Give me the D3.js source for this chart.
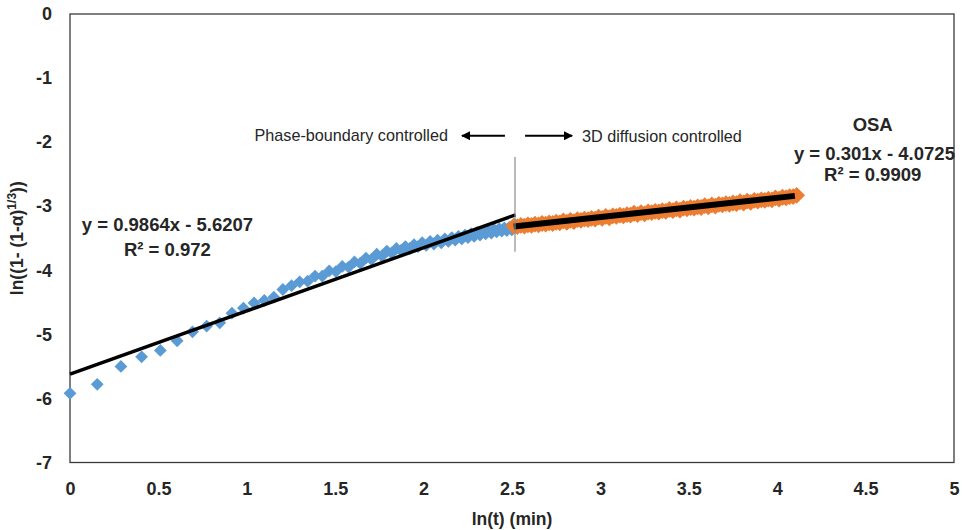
<!DOCTYPE html>
<html>
<head>
<meta charset="utf-8">
<script src="https://cdn.jsdelivr.net/npm/d3@7"></script>
<style>
  html, body { margin: 0; padding: 0; background: #fff; }
  svg { display: block; font-family: "Liberation Sans", Arial, sans-serif; }
</style>
</head>
<body>
<svg id="chart" width="962" height="530"></svg>
<script>
// ---- data ----
const xTicks = [0, 0.5, 1, 1.5, 2, 2.5, 3, 3.5, 4, 4.5, 5];
const yTicks = [0, -1, -2, -3, -4, -5, -6, -7];

// Phase-boundary controlled region (blue)
const blueX = [0, 0.154, 0.288, 0.405, 0.511, 0.606, 0.693, 0.773, 0.847, 0.916,
  0.981, 1.041, 1.099, 1.153, 1.204, 1.253, 1.299, 1.344, 1.386, 1.427,
  1.466, 1.504, 1.540, 1.576, 1.609, 1.642, 1.674, 1.705, 1.735, 1.764,
  1.792, 1.819, 1.846, 1.872, 1.897, 1.922, 1.946, 1.969, 1.992, 2.015,
  2.037, 2.058, 2.079, 2.100, 2.120, 2.140, 2.160, 2.179, 2.197, 2.216,
  2.234, 2.251, 2.269, 2.286, 2.303, 2.319, 2.335, 2.351, 2.367, 2.383,
  2.398, 2.413, 2.428, 2.442, 2.457, 2.471, 2.485, 2.499];
const blueY = [-5.92, -5.78, -5.50, -5.35, -5.25, -5.10, -4.96, -4.87, -4.82, -4.67,
  -4.59, -4.51, -4.47, -4.42, -4.30, -4.24, -4.18, -4.17, -4.09, -4.09,
  -4.01, -4.02, -3.94, -3.95, -3.87, -3.89, -3.81, -3.83, -3.75, -3.78,
  -3.70, -3.73, -3.66, -3.69, -3.63, -3.66, -3.60, -3.63, -3.57, -3.61,
  -3.55, -3.59, -3.53, -3.57, -3.51, -3.55, -3.49, -3.53, -3.47, -3.51,
  -3.45, -3.49, -3.43, -3.47, -3.41, -3.45, -3.39, -3.43, -3.38, -3.42,
  -3.36, -3.40, -3.35, -3.39, -3.34, -3.38, -3.33, -3.37];

// 3D diffusion controlled region (orange)
const orangeX = [2.51, 2.53, 2.55, 2.57, 2.59, 2.61, 2.63, 2.65, 2.67, 2.69,
  2.71, 2.73, 2.75, 2.77, 2.79, 2.81, 2.83, 2.85, 2.87, 2.89,
  2.91, 2.93, 2.95, 2.97, 2.99, 3.01, 3.03, 3.05, 3.07, 3.09,
  3.11, 3.13, 3.15, 3.17, 3.19, 3.21, 3.23, 3.25, 3.27, 3.29,
  3.31, 3.33, 3.35, 3.37, 3.39, 3.41, 3.43, 3.45, 3.47, 3.49,
  3.51, 3.53, 3.55, 3.57, 3.59, 3.61, 3.63, 3.65, 3.67, 3.69,
  3.71, 3.73, 3.75, 3.77, 3.79, 3.81, 3.83, 3.85, 3.87, 3.89,
  3.91, 3.93, 3.95, 3.97, 3.99, 4.01, 4.03, 4.05, 4.07, 4.09, 4.11];
const orangeY = [-3.31, -3.32, -3.30, -3.31, -3.29, -3.30, -3.28, -3.29, -3.27, -3.28,
  -3.26, -3.27, -3.25, -3.26, -3.23, -3.25, -3.22, -3.24, -3.21, -3.22,
  -3.20, -3.21, -3.19, -3.20, -3.17, -3.19, -3.16, -3.18, -3.15, -3.16,
  -3.14, -3.15, -3.13, -3.14, -3.11, -3.13, -3.10, -3.12, -3.09, -3.10,
  -3.08, -3.09, -3.07, -3.08, -3.05, -3.07, -3.04, -3.06, -3.03, -3.04,
  -3.02, -3.03, -3.01, -3.02, -2.99, -3.01, -2.98, -3.00, -2.97, -2.98,
  -2.96, -2.97, -2.95, -2.96, -2.93, -2.95, -2.92, -2.94, -2.91, -2.92,
  -2.90, -2.91, -2.89, -2.90, -2.87, -2.89, -2.86, -2.87, -2.85, -2.85, -2.83];

// trendlines: [slope, intercept, xStart, xEnd]
const blueTrend = [0.9864, -5.6207, 0, 2.52];
const orangeTrend = [0.301, -4.0725, 2.51, 4.10];

const blueLabels = ["y = 0.9864x - 5.6207", "R² = 0.972"];
const orangeLabels = ["OSA", "y = 0.301x - 4.0725", "R² = 0.9909"];
const regionLabels = ["Phase-boundary controlled", "3D diffusion controlled"];
const xTitle = "ln(t) (min)";

// ---- layout ----
const svg = d3.select("#chart");
const m = {left: 70, right: 8, top: 14, bottom: 67.5};
const W = 962, H = 530;
const x = d3.scaleLinear().domain([0, 5]).range([m.left, W - m.right]);
const y = d3.scaleLinear().domain([-7, 0]).range([H - m.bottom, m.top]);

const blue = "#5B9BD5", orange = "#ED7D31";
const txt = "#262626";

// plot box
svg.append("rect")
  .attr("x", x(0)).attr("y", y(0))
  .attr("width", x(5) - x(0)).attr("height", y(-7) - y(0))
  .attr("fill", "none").attr("stroke", "#3a3a3a").attr("stroke-width", 1.3);

// axes (labels only)
const xAxis = svg.append("g").attr("transform", `translate(0,${y(-7)})`)
  .call(d3.axisBottom(x).tickValues(xTicks).tickSize(0).tickPadding(20).tickFormat(d => String(d)));
xAxis.select(".domain").remove();
xAxis.selectAll("text").attr("font-size", 18).attr("font-weight", "bold")
  .attr("fill", txt).attr("font-family", "Liberation Sans, Arial, sans-serif");

const yAxis = svg.append("g").attr("transform", `translate(${x(0)},0)`)
  .call(d3.axisLeft(y).tickValues(yTicks).tickSize(0).tickPadding(18).tickFormat(d => String(d)));
yAxis.select(".domain").remove();
yAxis.selectAll("text").attr("font-size", 18).attr("font-weight", "bold")
  .attr("fill", txt).attr("font-family", "Liberation Sans, Arial, sans-serif");

// diamond symbol (square rotated 45deg)
const diamond = {
  draw(ctx, size) {
    const r = Math.sqrt(size / 2);
    ctx.moveTo(0, -r); ctx.lineTo(r, 0); ctx.lineTo(0, r); ctx.lineTo(-r, 0); ctx.closePath();
  }
};

function drawSeries(xs, ys, color, r) {
  const sym = d3.symbol().type(diamond).size(2 * r * r);
  svg.append("g").selectAll("path")
    .data(xs.map((v, i) => [v, ys[i]]))
    .join("path")
    .attr("transform", d => `translate(${x(d[0])},${y(d[1])})`)
    .attr("d", sym)
    .attr("fill", color);
}
drawSeries(blueX, blueY, blue, 6.4);
drawSeries(orangeX, orangeY, orange, 8.4);

// trendlines
function drawTrend(t, width) {
  const [a, b, x0, x1] = t;
  svg.append("line")
    .attr("x1", x(x0)).attr("y1", y(a * x0 + b))
    .attr("x2", x(x1)).attr("y2", y(a * x1 + b))
    .attr("stroke", "#000").attr("stroke-width", width);
}
drawTrend(blueTrend, 3.4);
drawTrend(orangeTrend, 6);

// vertical divider
svg.append("line")
  .attr("x1", x(2.517)).attr("x2", x(2.517))
  .attr("y1", y(-2.23)).attr("y2", y(-3.71))
  .attr("stroke", "#8c8c8c").attr("stroke-width", 1.2);

// arrows
const defs = svg.append("defs");
defs.append("marker").attr("id", "ah")
  .attr("viewBox", "0 0 10 10").attr("refX", 9).attr("refY", 5)
  .attr("markerWidth", 4.5).attr("markerHeight", 4.5).attr("orient", "auto")
  .append("path").attr("d", "M0,0 L10,5 L0,10 z").attr("fill", "#000");
const arrowY = -1.90;
svg.append("line").attr("x1", x(2.46)).attr("x2", x(2.217))
  .attr("y1", y(arrowY)).attr("y2", y(arrowY))
  .attr("stroke", "#000").attr("stroke-width", 2).attr("marker-end", "url(#ah)");
svg.append("line").attr("x1", x(2.574)).attr("x2", x(2.84))
  .attr("y1", y(arrowY)).attr("y2", y(arrowY))
  .attr("stroke", "#000").attr("stroke-width", 2).attr("marker-end", "url(#ah)");

// region labels
svg.append("text").attr("x", x(2.138)).attr("y", y(-1.89)).attr("dy", "0.35em")
  .attr("text-anchor", "end").attr("font-size", 16.2).attr("fill", txt)
  .text(regionLabels[0]);
svg.append("text").attr("x", x(2.896)).attr("y", y(-1.91)).attr("dy", "0.35em")
  .attr("text-anchor", "start").attr("font-size", 16.2).attr("fill", txt)
  .text(regionLabels[1]);

// trendline labels
function label(t, cx, cy, size) {
  svg.append("text").attr("x", x(cx)).attr("y", y(cy)).attr("dy", "0.35em")
    .attr("text-anchor", "middle").attr("font-size", size).attr("font-weight", "bold")
    .attr("fill", txt).text(t);
}
label(blueLabels[0], 0.551, -3.29, 18.5);
label(blueLabels[1], 0.551, -3.68, 18.5);
label(orangeLabels[0], 4.54, -1.73, 18.5);
label(orangeLabels[1], 4.55, -2.17, 18.5);
label(orangeLabels[2], 4.54, -2.51, 18.5);

// axis titles
svg.append("text").attr("x", (x(0) + x(5)) / 2).attr("y", 519).attr("dy", "0.35em")
  .attr("text-anchor", "middle").attr("font-size", 17.5).attr("font-weight", "bold")
  .attr("fill", txt).text(xTitle);

const yt = svg.append("text")
  .attr("transform", `translate(23,${(y(0) + y(-7)) / 2}) rotate(-90)`)
  .attr("text-anchor", "middle").attr("font-size", 17.5).attr("font-weight", "bold")
  .attr("fill", txt);
yt.append("tspan").text("ln((1- (1-α)");
yt.append("tspan").attr("dy", -7).attr("font-size", 12).text("1/3");
yt.append("tspan").attr("dy", 7).text("))");
</script>
</body>
</html>
